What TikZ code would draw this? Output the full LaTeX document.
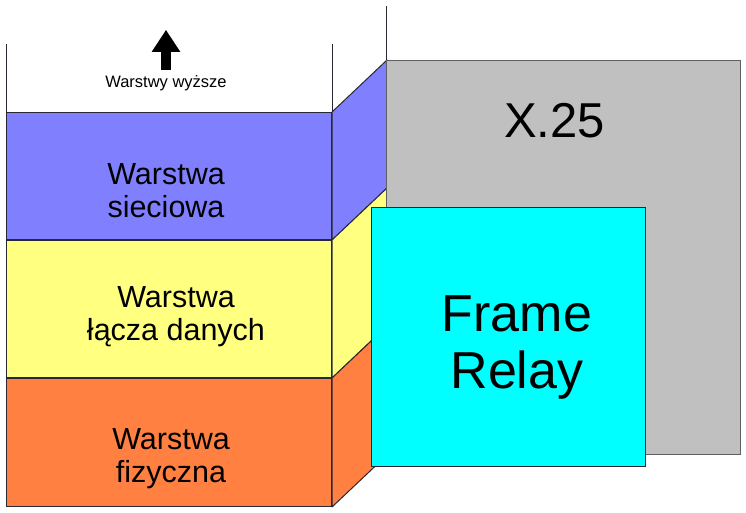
\documentclass[tikz,border=0pt]{standalone}
\usepackage{fontspec}
\setmainfont{Liberation Sans}
\usetikzlibrary{arrows.meta}
\tikzstyle{box}=[draw=edge,line width=1pt,anchor=north west,inner sep=0pt,minimum width=325pt]
\tikzstyle{face}=[draw=edge,line width=1pt,line join=round]
\tikzstyle{layertext}=[align=center,inner sep=0pt,font=\fontsize{30.5}{33}\selectfont]
\definecolor{net}{RGB}{128,128,255}
\definecolor{link}{RGB}{255,255,128}
\definecolor{phys}{RGB}{255,128,64}
\definecolor{xgray}{RGB}{192,192,192}
\definecolor{fr}{RGB}{0,255,255}
\definecolor{edge}{RGB}{40,40,50}

\begin{document}
\begin{tikzpicture}[x=1pt,y=-1pt]
	\useasboundingbox (0,0) rectangle (746,512);
	% front of the stack
	\node[box,fill=net,minimum height=127pt] (net) at (6,112) {};
	\node[box,fill=link,minimum height=137pt] (link) at (net.south west) {};
	\node[box,fill=phys,minimum height=128pt] (phys) at (link.south west) {};
	% side faces
	\foreach \l in {net,link,phys}
		\path[face,fill=\l] (\l.north east) -- ++(55,-52) -- ([shift={(55,-52)}]\l.south east) -- (\l.south east) -- cycle;
	\node[box,fill=xgray,draw=edge!75,minimum width=354pt,minimum height=394pt] (x25) at (386,60) {};
	\node[box,fill=fr,minimum width=274pt,minimum height=259pt] (fr) at (371,207) {};
	\draw[face] (net.north west) -- ++(0,-68) (net.north east) -- ++(0,-68) (x25.north west) -- ++(0,-54);
	% texts
	\node[inner sep=0pt,anchor=base,font=\fontsize{16.5}{18}\selectfont] (uptext) at (166,87) {Warstwy wyższe};
	\draw[-{Triangle[width=27pt,length=22pt]},line width=10pt] ([yshift=5pt]uptext.north) -- ++(0,-40);
	\node[layertext] (nettext) at (166,190.75) {Warstwa\\sieciowa};
	\node[layertext] (linktext) at (176,316.6) {Warstwa\\łącza danych};
	\node[layertext] (phystext) at (171,459) {Warstwa\\fizyczna};
	\node[inner sep=0pt,anchor=base,font=\fontsize{49}{52}\selectfont] (x25text) at (554.5,137) {X.25};
	\node[align=center,inner sep=0pt,font=\fontsize{52}{57}\selectfont] (frtext) at (517,347.4) {Frame\\Relay};
\end{tikzpicture}
\end{document}
